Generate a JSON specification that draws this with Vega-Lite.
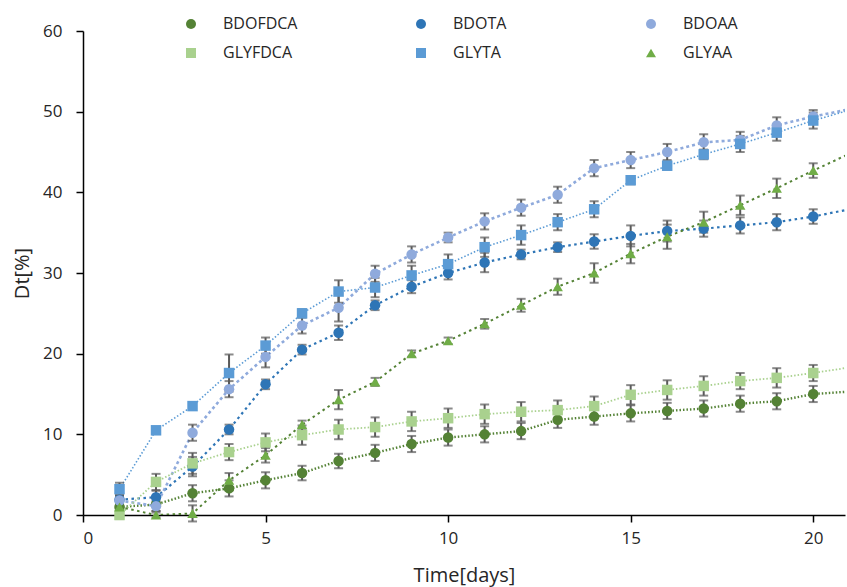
{
  "$schema": "https://vega.github.io/schema/vega-lite/v6.json",
  "width": 762,
  "height": 484,
  "autosize": {"type": "none"},
  "padding": {"left": 83, "top": 31, "right": 2, "bottom": 72},
  "background": "white",
  "config": {
    "view": {"stroke": null},
    "font": "Open Sans",
    "axis": {"grid": false, "domainColor": "#000000", "domainWidth": 1.5, "tickColor": "#000000", "tickWidth": 1.5, "tickSize": 7, "labelFont": "Open Sans", "labelFontSize": 17, "labelColor": "#262626", "titleFont": "Open Sans", "titleFontSize": 20, "titleFontWeight": "normal", "titleColor": "#262626"},
    "legend": {"title": null, "orient": "none", "direction": "horizontal", "legendX": 100, "legendY": -15, "columns": 3, "gridAlign": "all", "columnPadding": 115, "rowPadding": 13, "padding": 0, "symbolSize": 100, "labelFont": "Open Sans", "labelFontSize": 16, "labelColor": "#262626", "labelOffset": 24}
  },
  "data": {"values": [
    {"day": 1, "series": "BDOFDCA", "value": 1.0, "err": 0.6},
    {"day": 2, "series": "BDOFDCA", "value": 1.3, "err": 0.8},
    {"day": 3, "series": "BDOFDCA", "value": 2.7, "err": 1.0},
    {"day": 4, "series": "BDOFDCA", "value": 3.3, "err": 1.0},
    {"day": 5, "series": "BDOFDCA", "value": 4.3, "err": 1.0},
    {"day": 6, "series": "BDOFDCA", "value": 5.2, "err": 0.9},
    {"day": 7, "series": "BDOFDCA", "value": 6.7, "err": 0.9},
    {"day": 8, "series": "BDOFDCA", "value": 7.7, "err": 1.0},
    {"day": 9, "series": "BDOFDCA", "value": 8.8, "err": 1.0},
    {"day": 10, "series": "BDOFDCA", "value": 9.6, "err": 1.0},
    {"day": 11, "series": "BDOFDCA", "value": 10.0, "err": 1.0},
    {"day": 12, "series": "BDOFDCA", "value": 10.4, "err": 1.0},
    {"day": 13, "series": "BDOFDCA", "value": 11.8, "err": 1.0},
    {"day": 14, "series": "BDOFDCA", "value": 12.2, "err": 1.0},
    {"day": 15, "series": "BDOFDCA", "value": 12.6, "err": 1.0},
    {"day": 16, "series": "BDOFDCA", "value": 12.9, "err": 1.0},
    {"day": 17, "series": "BDOFDCA", "value": 13.2, "err": 1.0},
    {"day": 18, "series": "BDOFDCA", "value": 13.8, "err": 1.0},
    {"day": 19, "series": "BDOFDCA", "value": 14.1, "err": 1.0},
    {"day": 20, "series": "BDOFDCA", "value": 15.0, "err": 1.0},
    {"day": 21, "series": "BDOFDCA", "value": 15.3, "err": 1.0},
    {"day": 1, "series": "BDOTA", "value": 1.9, "err": 0.6},
    {"day": 2, "series": "BDOTA", "value": 2.2, "err": 0.8},
    {"day": 3, "series": "BDOTA", "value": 6.0, "err": 1.2},
    {"day": 4, "series": "BDOTA", "value": 10.6, "err": 0.6},
    {"day": 5, "series": "BDOTA", "value": 16.2, "err": 0.6},
    {"day": 6, "series": "BDOTA", "value": 20.5, "err": 0.6},
    {"day": 7, "series": "BDOTA", "value": 22.6, "err": 0.9},
    {"day": 8, "series": "BDOTA", "value": 26.0, "err": 0.6},
    {"day": 9, "series": "BDOTA", "value": 28.3, "err": 0.8},
    {"day": 10, "series": "BDOTA", "value": 30.0, "err": 0.8},
    {"day": 11, "series": "BDOTA", "value": 31.3, "err": 1.2},
    {"day": 12, "series": "BDOTA", "value": 32.3, "err": 0.6},
    {"day": 13, "series": "BDOTA", "value": 33.2, "err": 0.6},
    {"day": 14, "series": "BDOTA", "value": 33.9, "err": 0.9},
    {"day": 15, "series": "BDOTA", "value": 34.6, "err": 1.3},
    {"day": 16, "series": "BDOTA", "value": 35.2, "err": 1.3},
    {"day": 17, "series": "BDOTA", "value": 35.5, "err": 1.0},
    {"day": 18, "series": "BDOTA", "value": 35.9, "err": 1.0},
    {"day": 19, "series": "BDOTA", "value": 36.3, "err": 1.0},
    {"day": 20, "series": "BDOTA", "value": 37.0, "err": 0.9},
    {"day": 21, "series": "BDOTA", "value": 37.9, "err": 0.9},
    {"day": 1, "series": "BDOAA", "value": 1.8, "err": 0.6},
    {"day": 2, "series": "BDOAA", "value": 1.1, "err": 0.6},
    {"day": 3, "series": "BDOAA", "value": 10.2, "err": 1.0},
    {"day": 4, "series": "BDOAA", "value": 15.6, "err": 1.0},
    {"day": 5, "series": "BDOAA", "value": 19.6, "err": 1.3},
    {"day": 6, "series": "BDOAA", "value": 23.5, "err": 1.0},
    {"day": 7, "series": "BDOAA", "value": 25.7, "err": 1.7},
    {"day": 8, "series": "BDOAA", "value": 29.9, "err": 1.0},
    {"day": 9, "series": "BDOAA", "value": 32.3, "err": 1.0},
    {"day": 10, "series": "BDOAA", "value": 34.4, "err": 0.6},
    {"day": 11, "series": "BDOAA", "value": 36.4, "err": 1.0},
    {"day": 12, "series": "BDOAA", "value": 38.1, "err": 1.0},
    {"day": 13, "series": "BDOAA", "value": 39.7, "err": 1.0},
    {"day": 14, "series": "BDOAA", "value": 43.0, "err": 1.0},
    {"day": 15, "series": "BDOAA", "value": 44.0, "err": 1.0},
    {"day": 16, "series": "BDOAA", "value": 45.0, "err": 1.0},
    {"day": 17, "series": "BDOAA", "value": 46.2, "err": 1.0},
    {"day": 18, "series": "BDOAA", "value": 46.5, "err": 1.0},
    {"day": 19, "series": "BDOAA", "value": 48.3, "err": 1.0},
    {"day": 20, "series": "BDOAA", "value": 49.4, "err": 0.8},
    {"day": 21, "series": "BDOAA", "value": 50.3, "err": 0.8},
    {"day": 1, "series": "GLYFDCA", "value": 0.0, "err": 0.5},
    {"day": 2, "series": "GLYFDCA", "value": 4.1, "err": 1.0},
    {"day": 3, "series": "GLYFDCA", "value": 6.4, "err": 1.3},
    {"day": 4, "series": "GLYFDCA", "value": 7.8, "err": 1.0},
    {"day": 5, "series": "GLYFDCA", "value": 9.0, "err": 1.1},
    {"day": 6, "series": "GLYFDCA", "value": 9.9, "err": 1.2},
    {"day": 7, "series": "GLYFDCA", "value": 10.6, "err": 1.2},
    {"day": 8, "series": "GLYFDCA", "value": 10.9, "err": 1.2},
    {"day": 9, "series": "GLYFDCA", "value": 11.6, "err": 1.2},
    {"day": 10, "series": "GLYFDCA", "value": 12.0, "err": 1.2},
    {"day": 11, "series": "GLYFDCA", "value": 12.5, "err": 1.2},
    {"day": 12, "series": "GLYFDCA", "value": 12.8, "err": 1.2},
    {"day": 13, "series": "GLYFDCA", "value": 13.0, "err": 1.2},
    {"day": 14, "series": "GLYFDCA", "value": 13.5, "err": 1.2},
    {"day": 15, "series": "GLYFDCA", "value": 14.9, "err": 1.2},
    {"day": 16, "series": "GLYFDCA", "value": 15.5, "err": 1.2},
    {"day": 17, "series": "GLYFDCA", "value": 16.0, "err": 1.2},
    {"day": 18, "series": "GLYFDCA", "value": 16.6, "err": 1.0},
    {"day": 19, "series": "GLYFDCA", "value": 17.0, "err": 1.2},
    {"day": 20, "series": "GLYFDCA", "value": 17.6, "err": 1.0},
    {"day": 21, "series": "GLYFDCA", "value": 18.3, "err": 1.0},
    {"day": 1, "series": "GLYTA", "value": 3.2, "err": 0.8},
    {"day": 2, "series": "GLYTA", "value": 10.5, "err": 0.3},
    {"day": 3, "series": "GLYTA", "value": 13.5, "err": 0.3},
    {"day": 4, "series": "GLYTA", "value": 17.6, "err": 2.3},
    {"day": 5, "series": "GLYTA", "value": 21.0, "err": 1.0},
    {"day": 6, "series": "GLYTA", "value": 25.0, "err": 0.5},
    {"day": 7, "series": "GLYTA", "value": 27.7, "err": 1.4},
    {"day": 8, "series": "GLYTA", "value": 28.2, "err": 1.2},
    {"day": 9, "series": "GLYTA", "value": 29.7, "err": 1.2},
    {"day": 10, "series": "GLYTA", "value": 31.1, "err": 1.2},
    {"day": 11, "series": "GLYTA", "value": 33.2, "err": 1.2},
    {"day": 12, "series": "GLYTA", "value": 34.7, "err": 1.2},
    {"day": 13, "series": "GLYTA", "value": 36.3, "err": 1.0},
    {"day": 14, "series": "GLYTA", "value": 37.9, "err": 1.0},
    {"day": 15, "series": "GLYTA", "value": 41.5, "err": 0.5},
    {"day": 16, "series": "GLYTA", "value": 43.3, "err": 0.5},
    {"day": 17, "series": "GLYTA", "value": 44.7, "err": 0.6},
    {"day": 18, "series": "GLYTA", "value": 46.0, "err": 1.0},
    {"day": 19, "series": "GLYTA", "value": 47.4, "err": 1.0},
    {"day": 20, "series": "GLYTA", "value": 48.9, "err": 1.0},
    {"day": 21, "series": "GLYTA", "value": 50.2, "err": 1.0},
    {"day": 1, "series": "GLYAA", "value": 1.0, "err": 0.5},
    {"day": 2, "series": "GLYAA", "value": 0.0, "err": 0.3},
    {"day": 3, "series": "GLYAA", "value": 0.2, "err": 1.0},
    {"day": 4, "series": "GLYAA", "value": 4.3, "err": 0.9},
    {"day": 5, "series": "GLYAA", "value": 7.4, "err": 0.9},
    {"day": 6, "series": "GLYAA", "value": 11.2, "err": 0.5},
    {"day": 7, "series": "GLYAA", "value": 14.3, "err": 1.2},
    {"day": 8, "series": "GLYAA", "value": 16.5, "err": 0.5},
    {"day": 9, "series": "GLYAA", "value": 20.0, "err": 0.4},
    {"day": 10, "series": "GLYAA", "value": 21.6, "err": 0.4},
    {"day": 11, "series": "GLYAA", "value": 23.7, "err": 0.6},
    {"day": 12, "series": "GLYAA", "value": 26.0, "err": 0.8},
    {"day": 13, "series": "GLYAA", "value": 28.3, "err": 1.0},
    {"day": 14, "series": "GLYAA", "value": 30.0, "err": 1.2},
    {"day": 15, "series": "GLYAA", "value": 32.4, "err": 1.2},
    {"day": 16, "series": "GLYAA", "value": 34.5, "err": 1.5},
    {"day": 17, "series": "GLYAA", "value": 36.3, "err": 1.3},
    {"day": 18, "series": "GLYAA", "value": 38.4, "err": 1.2},
    {"day": 19, "series": "GLYAA", "value": 40.5, "err": 1.2},
    {"day": 20, "series": "GLYAA", "value": 42.7, "err": 0.9},
    {"day": 21, "series": "GLYAA", "value": 44.8, "err": 0.9}
  ]},
  "encoding": {
    "x": {"field": "day", "type": "quantitative", "scale": {"domain": [0, 20.87], "nice": false}, "axis": {"values": [0, 5, 10, 15, 20], "title": "Time[days]", "labelPadding": 8, "titlePadding": 19}},
    "y": {"field": "value", "type": "quantitative", "scale": {"domain": [0, 60], "nice": false}, "axis": {"values": [0, 10, 20, 30, 40, 50, 60], "title": "Dt[%]", "labelPadding": 14, "titlePadding": 10}}
  },
  "layer": [
    {
      "mark": {"type": "line", "clip": true},
      "encoding": {
        "stroke": {"field": "series", "type": "nominal", "legend": null, "scale": {"range": ["#8FAADC", "#548235", "#2E75B6", "#548235", "#A9D18E", "#5B9BD5"]}},
        "strokeDash": {"field": "series", "type": "nominal", "legend": null, "scale": {"range": [[3, 3], [1.5, 2], [2.5, 3.5], [2.5, 3.5], [1.5, 2], [1.5, 2]]}},
        "strokeWidth": {"field": "series", "type": "nominal", "legend": null, "scale": {"range": [2.6, 1.6, 2.6, 2.6, 1.6, 1.6]}}
      }
    },
    {
      "transform": [{"filter": "datum.day <= 20"}],
      "mark": {"type": "errorbar", "ticks": true, "size": 9, "thickness": 2, "color": "#595959"},
      "encoding": {
        "yError": {"field": "err"}
      }
    },
    {
      "transform": [{"filter": "datum.day <= 20"}],
      "mark": {"type": "point", "filled": true, "size": 110, "opacity": 1},
      "encoding": {
        "fill": {"field": "series", "type": "nominal", "scale": {"domain": ["BDOFDCA", "BDOTA", "BDOAA", "GLYFDCA", "GLYTA", "GLYAA"], "range": ["#548235", "#2E75B6", "#8FAADC", "#A9D18E", "#5B9BD5", "#70AD47"]}},
        "shape": {"field": "series", "type": "nominal", "scale": {"domain": ["BDOFDCA", "BDOTA", "BDOAA", "GLYFDCA", "GLYTA", "GLYAA"], "range": ["circle", "circle", "circle", "square", "square", "triangle-up"]}}
      }
    }
  ]
}
